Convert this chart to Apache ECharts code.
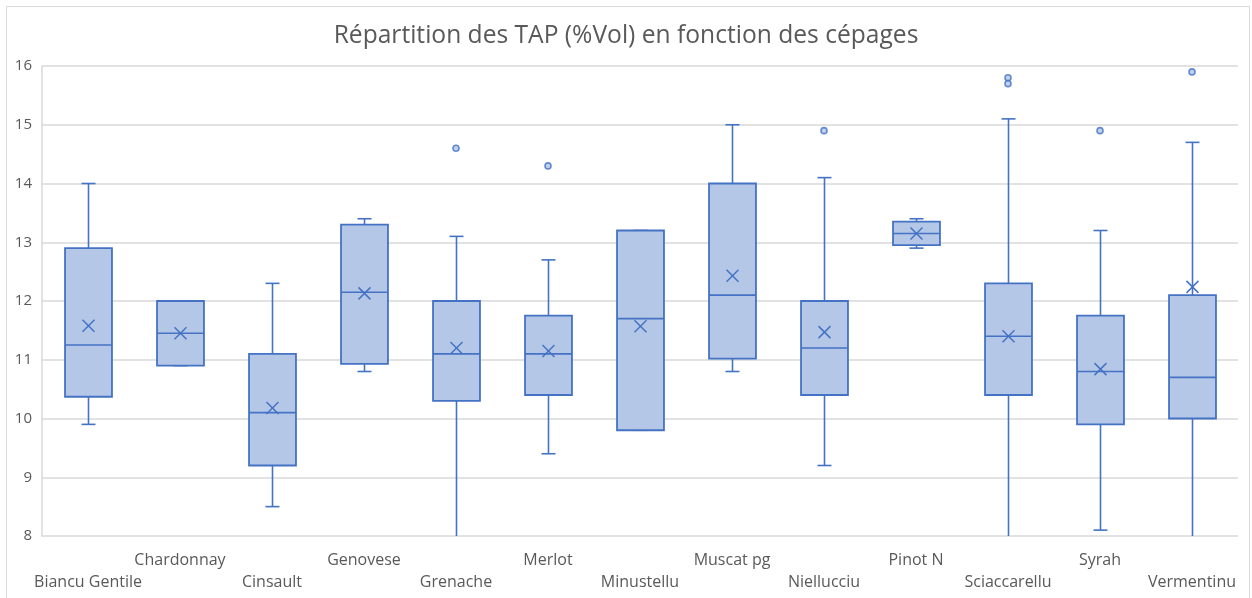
<!DOCTYPE html>
<html>
<head>
<meta charset="utf-8">
<script src="https://cdn.jsdelivr.net/npm/echarts@6/dist/echarts.min.js"></script>
<style>
html,body{margin:0;padding:0;background:#fff;}
#chart{width:1252px;height:598px;}
</style>
</head>
<body>
<div id="chart"></div>
<script>
var categories = ['Biancu Gentile','Chardonnay','Cinsault','Genovese','Grenache','Merlot','Minustellu','Muscat pg','Niellucciu','Pinot N','Sciaccarellu','Syrah','Vermentinu'];
var whiskerMin = [9.9, 10.9, 8.5, 10.8, 7.5, 9.4, 9.8, 10.8, 9.2, 12.9, 7.5, 8.1, 7.5];
var q1Values   = [10.37, 10.9, 9.2, 10.93, 10.3, 10.4, 9.8, 11.02, 10.4, 12.95, 10.4, 9.9, 10.0];
var medians    = [11.25, 11.45, 10.1, 12.15, 11.1, 11.1, 11.7, 12.1, 11.2, 13.15, 11.4, 10.8, 10.7];
var q3Values   = [12.9, 12.0, 11.1, 13.3, 12.0, 11.75, 13.2, 14.0, 12.0, 13.35, 12.3, 11.75, 12.1];
var whiskerMax = [14.0, 12.0, 12.3, 13.4, 13.1, 12.7, 13.2, 15.0, 14.1, 13.4, 15.1, 13.2, 14.7];
var means      = [11.58, 11.45, 10.18, 12.13, 11.2, 11.15, 11.57, 12.43, 11.47, 13.15, 11.4, 10.84, 12.24];
var outlierCats = ['Grenache','Merlot','Niellucciu','Sciaccarellu','Sciaccarellu','Syrah','Vermentinu'];
var outlierVals = [14.6, 14.3, 14.9, 15.8, 15.7, 14.9, 15.9];
var yTicks = [8, 9, 10, 11, 12, 13, 14, 15, 16];

var BLUE = '#4472c4';
var FILL = '#b4c7e7';
var FONT = 'Open Sans';

var boxData = categories.map(function (c, i) {
  return [i, whiskerMin[i], q1Values[i], medians[i], q3Values[i], whiskerMax[i], means[i]];
});
var outlierData = outlierCats.map(function (c, i) {
  return [categories.indexOf(c), outlierVals[i]];
});

function renderBox(params, api) {
  var idx = api.value(0);
  var cs = params.coordSys;
  var bottom = cs.y + cs.height;
  var top = cs.y;
  var pMin = api.coord([idx, api.value(1)]);
  var pQ1 = api.coord([idx, api.value(2)]);
  var pMed = api.coord([idx, api.value(3)]);
  var pQ3 = api.coord([idx, api.value(4)]);
  var pMax = api.coord([idx, api.value(5)]);
  var pMean = api.coord([idx, api.value(6)]);
  var bw = api.size([1, 0])[0] * 0.51;
  var half = bw / 2;
  var cap = 7;
  var x = Math.round(pQ1[0]) + 0.5;
  var lineStyle = { stroke: BLUE, lineWidth: 1.6, fill: null };
  var children = [];
  var minY = Math.min(pMin[1], bottom);
  var minClipped = pMin[1] > bottom;
  var maxY = Math.max(pMax[1], top);
  children.push({ type: 'line', shape: { x1: x, y1: pQ1[1], x2: x, y2: minY }, style: lineStyle });
  if (!minClipped) {
    children.push({ type: 'line', shape: { x1: x - cap, y1: minY, x2: x + cap, y2: minY }, style: lineStyle });
  }
  children.push({ type: 'line', shape: { x1: x, y1: pQ3[1], x2: x, y2: maxY }, style: lineStyle });
  children.push({ type: 'line', shape: { x1: x - cap, y1: maxY, x2: x + cap, y2: maxY }, style: lineStyle });
  children.push({ type: 'rect', shape: { x: x - half, y: pQ3[1], width: bw, height: pQ1[1] - pQ3[1] },
    style: { fill: FILL, stroke: BLUE, lineWidth: 1.8 } });
  children.push({ type: 'line', shape: { x1: x - half, y1: pMed[1], x2: x + half, y2: pMed[1] }, style: lineStyle });
  var s = 6;
  children.push({ type: 'line', shape: { x1: x - s, y1: pMean[1] - s, x2: x + s, y2: pMean[1] + s }, style: { stroke: BLUE, lineWidth: 1.5 } });
  children.push({ type: 'line', shape: { x1: x - s, y1: pMean[1] + s, x2: x + s, y2: pMean[1] - s }, style: { stroke: BLUE, lineWidth: 1.5 } });
  return { type: 'group', children: children };
}

var chart = echarts.init(document.getElementById('chart'), null, { renderer: 'canvas' });
chart.setOption({
  backgroundColor: '#fff',
  animation: false,
  title: {
    text: 'Répartition des TAP (%Vol) en fonction des cépages',
    left: 'center',
    top: 18,
    textStyle: { fontFamily: FONT, fontSize: 24.6, fontWeight: 'normal', color: '#595959' }
  },
  graphic: [{
    type: 'rect',
    shape: { x: 6.5, y: 6.5, width: 1243, height: 600 },
    style: { fill: null, stroke: '#d9d9d9', lineWidth: 1 },
    silent: true, z: -1
  }],
  grid: { left: 42, right: 14, top: 66, bottom: 62, containLabel: false },
  xAxis: {
    type: 'category',
    data: categories,
    boundaryGap: true,
    axisLine: { show: false },
    axisTick: { show: false },
    splitLine: { show: false },
    axisLabel: {
      interval: 0,
      margin: 13,
      fontFamily: FONT,
      fontSize: 16,
      color: '#595959',
      lineHeight: 22,
      formatter: function (v, i) { return i % 2 === 0 ? '\n' + v : v; }
    }
  },
  yAxis: {
    type: 'value',
    min: 8,
    max: 16,
    interval: 1,
    axisLine: { show: true, lineStyle: { color: '#d9d9d9', width: 1.5 } },
    axisTick: { show: false },
    splitLine: { show: true, lineStyle: { color: '#d9d9d9', width: 1.5 } },
    axisLabel: {
      margin: 10,
      fontFamily: FONT,
      fontSize: 15,
      color: '#595959',
      formatter: function (v) { return yTicks.indexOf(v) >= 0 ? String(v) : ''; }
    }
  },
  series: [
    {
      type: 'custom',
      renderItem: renderBox,
      data: boxData,
      encode: { x: 0, y: [1, 2, 3, 4, 5, 6] },
      z: 2
    },
    {
      type: 'scatter',
      data: outlierData,
      symbol: 'circle',
      symbolSize: 6,
      itemStyle: { color: FILL, borderColor: BLUE, borderWidth: 1.6 },
      z: 3
    }
  ]
});
</script>
</body>
</html>
